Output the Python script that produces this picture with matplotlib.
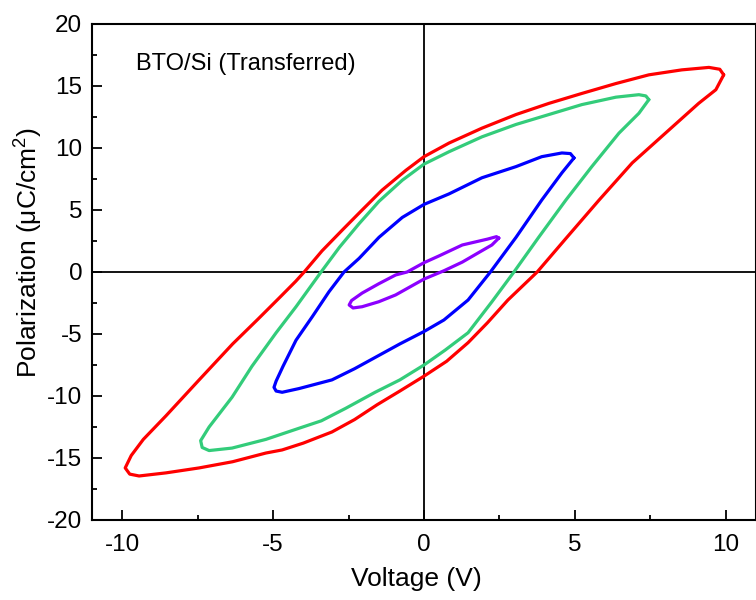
import matplotlib
matplotlib.use("Agg")
import matplotlib.pyplot as plt
from matplotlib.ticker import MultipleLocator

plt.rcParams['font.family'] = ['Liberation Sans', 'DejaVu Sans']
plt.rcParams['mathtext.fontset'] = 'custom'
plt.rcParams['mathtext.rm'] = 'Liberation Sans'

# Loops: voltage (V) and polarization (uC/cm^2), traced around each loop
red_v = [9.93, 9.8, 9.44, 8.54, 7.45, 6.36, 5.23, 4.14, 3.05, 1.92, 0.83, 0.0, -0.6, -1.39, -2.05, -2.7,
         -3.38, -3.97, -4.25, -4.8, -5.5, -6.34, -7.45, -8.55, -9.3, -9.7, -9.9, -9.75, -9.44, -8.55,
         -7.45, -6.34, -5.24, -4.7, -4.0, -3.05, -2.3, -1.55, -0.8, 0.0, 0.75, 1.46, 2.1, 2.78, 3.75,
         4.7, 5.8, 6.9, 8.0, 9.1, 9.67, 9.93]
red_p = [15.9, 16.35, 16.5, 16.3, 15.9, 15.2, 14.4, 13.6, 12.7, 11.6, 10.4, 9.3, 8.2, 6.6, 5.0, 3.4,
         1.7, 0.0, -0.75, -2.1, -3.8, -5.8, -8.7, -11.6, -13.5, -14.8, -15.8, -16.3, -16.45, -16.2,
         -15.8, -15.3, -14.6, -14.35, -13.8, -12.9, -11.9, -10.7, -9.6, -8.4, -7.2, -5.7, -4.1, -2.26, 0.0,
         2.7, 5.8, 8.8, 11.2, 13.6, 14.7, 15.9]

green_v = [7.45, 7.35, 7.12, 6.36, 5.23, 4.14, 3.05, 1.92, 0.83, 0.0, -0.72, -1.49, -2.15, -2.8, -3.41,
           -4.24, -4.9, -5.7, -6.36, -7.12, -7.4, -7.35, -7.12, -6.36, -5.24, -4.14, -3.4, -2.6, -1.62,
           -0.8, 0.0, 0.7, 1.46, 2.25, 2.98, 3.8, 4.7, 5.56, 6.46, 7.12, 7.45]
green_p = [13.9, 14.2, 14.3, 14.1, 13.5, 12.7, 11.9, 10.9, 9.7, 8.7, 7.4, 5.7, 3.9, 2.0, 0.0,
           -2.8, -4.9, -7.6, -10.1, -12.5, -13.6, -14.15, -14.4, -14.2, -13.5, -12.6, -12.0, -11.0, -9.7,
           -8.7, -7.5, -6.3, -4.9, -2.4, 0.0, 2.8, 5.8, 8.5, 11.2, 12.8, 13.9]

blue_v = [4.97, 4.85, 4.57, 3.9, 3.05, 1.92, 0.83, 0.0, -0.72, -1.49, -2.15, -2.65, -3.15, -3.7, -4.24,
          -4.67, -4.9, -4.97, -4.9, -4.7, -4.14, -3.05, -2.3, -1.55, -0.8, 0.0, 0.66, 1.46, 2.2, 3.05,
          3.9, 4.57, 4.97]
blue_p = [9.2, 9.55, 9.6, 9.3, 8.5, 7.6, 6.3, 5.45, 4.4, 2.8, 1.1, 0.0, -1.6, -3.6, -5.5,
          -7.6, -8.8, -9.3, -9.6, -9.7, -9.4, -8.7, -7.8, -6.8, -5.8, -4.8, -3.87, -2.26, 0.0, 2.8,
          5.8, 8.0, 9.2]

purple_v = [2.48, 2.4, 2.1, 1.27, 0.5, 0.0, -0.56, -0.94, -1.5, -2.05, -2.4, -2.48, -2.35, -2.05,
            -1.5, -0.94, 0.0, 0.66, 1.27, 1.8, 2.25, 2.48]
purple_p = [2.74, 2.85, 2.65, 2.18, 1.3, 0.75, 0.0, -0.24, -0.95, -1.7, -2.3, -2.66, -2.9, -2.8,
            -2.4, -1.85, -0.57, 0.1, 0.8, 1.55, 2.18, 2.74]

loops = [
    (red_v, red_p, '#FF0000'),
    (green_v, green_p, '#33CC7A'),
    (blue_v, blue_p, '#0000FF'),
    (purple_v, purple_p, '#8C00FF'),
]

xticks = [-10, -5, 0, 5, 10]
yticks = [-20, -15, -10, -5, 0, 5, 10, 15, 20]

fig = plt.figure(figsize=(7.56, 6.0), dpi=100)
ax = fig.add_axes([92 / 756, 80 / 600, 664 / 756, 496 / 600])

ax.axhline(0, color='black', lw=1.3, zorder=1)
ax.axvline(0, color='black', lw=1.3, zorder=1)

for v, p, c in loops:
    ax.plot(v, p, color=c, lw=2.3, solid_joinstyle='round', solid_capstyle='round', zorder=3)

ax.set_xlim(-11, 11)
ax.set_ylim(-20, 20)
ax.set_xticks(xticks)
ax.set_yticks(yticks)
ax.set_xticklabels([str(t) for t in xticks])
ax.set_yticklabels([str(t) for t in yticks])
ax.xaxis.set_minor_locator(MultipleLocator(2.5))
ax.yaxis.set_minor_locator(MultipleLocator(2.5))
ax.tick_params(axis='both', which='major', direction='in', length=7, width=1.3, labelsize=17.5)
ax.tick_params(axis='both', which='minor', direction='in', length=3.8, width=1.3)
ax.tick_params(axis='x', which='major', pad=10)
ax.tick_params(axis='y', which='major', pad=7)
for s in ax.spines.values():
    s.set_linewidth(1.5)

ax.set_xlabel('Voltage (V)', fontsize=19)
ax.set_ylabel(r'Polarization ($\mathregular{\mu}$C/cm$^\mathregular{2}$)', fontsize=19)
ax.xaxis.set_label_coords(0.489, -0.095)
ax.yaxis.set_label_coords(-0.072, 0.54)

ax.text(-9.55, 16.8, 'BTO/Si (Transferred)', fontsize=17, ha='left', va='center')

fig.savefig('out.png', dpi=100, facecolor='white')
